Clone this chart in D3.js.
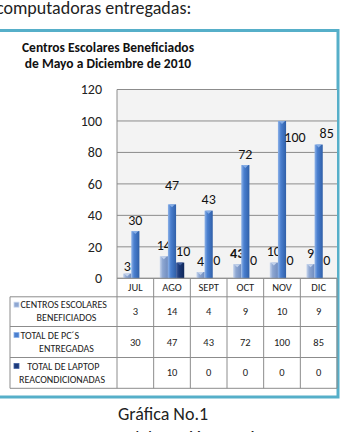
<!DOCTYPE html>
<html>
<head>
<meta charset="utf-8">
<script src="https://cdn.jsdelivr.net/npm/d3@7"></script>
<style>
  html, body { margin: 0; padding: 0; background: #fff; overflow: hidden; }
  svg { display: block; font-family: Carlito, Lato, sans-serif; }
</style>
</head>
<body>
<svg id="chart" width="345" height="432"></svg>
<script>
// data
const months = ["JUL", "AGO", "SEPT", "OCT", "NOV", "DIC"];
const centros = [3, 14, 4, 9, 10, 9];
const centrosLabels = ["3", "14", "4", "43", "10", "9"]; // as printed over the bars
const pcs = [30, 47, 43, 72, 100, 85];
const laptops = [null, 10, 0, 0, 0, 0];
const yTicks = [0, 20, 40, 60, 80, 100, 120];
const seriesNames = [
  ["CENTROS ESCOLARES", "BENEFICIADOS"],
  ["TOTAL DE PC´S", "ENTREGADAS"],
  ["   TOTAL DE LAPTOP", "REACONDICIONADAS"]
];

const colors = [
  { main: "#8ea7d2", light: "#c9d7ee", dark: "#6f8cbf" },
  { main: "#4a7fcf", light: "#8db2e8", dark: "#2f5fa8" },
  { main: "#1c3a7a", light: "#4563a3", dark: "#10285a" }
];

const svg = d3.select("#chart");
const plot = { left: 117, right: 337, top: 89.5, bottom: 278.3 };
const tableLeft = 10;
const rowLines = [278.3, 296.8, 326.5, 357.5, 388.3];
const gridColor = "#8c8c8c";

// gradients for the bars
const defs = svg.append("defs");
colors.forEach((c, i) => {
  const g = defs.append("linearGradient").attr("id", "grad" + i)
    .attr("x1", "0%").attr("x2", "100%").attr("y1", "0%").attr("y2", "0%");
  g.append("stop").attr("offset", "0%").attr("stop-color", c.light);
  g.append("stop").attr("offset", "35%").attr("stop-color", c.main);
  g.append("stop").attr("offset", "100%").attr("stop-color", c.dark);
});

// top text (cut by the crop)
svg.append("text")
  .attr("x", -4).attr("y", 13.5)
  .attr("font-size", "18px").attr("fill", "#222")
  .text("computadoras entregadas:");

// outer frame
svg.append("rect")
  .attr("x", -5).attr("y", 30.5)
  .attr("width", 343).attr("height", 366.5)
  .attr("fill", "#fff")
  .attr("stroke", "#56afc9").attr("stroke-width", 3);

// title
const title = svg.append("text")
  .attr("text-anchor", "middle")
  .attr("font-size", "13.5px").attr("font-weight", "bold").attr("fill", "#111");
title.append("tspan").attr("x", 108).attr("y", 52.3).text("Centros Escolares Beneficiados");
title.append("tspan").attr("x", 108).attr("y", 68).text("de Mayo a Diciembre de 2010");

// scales
const x = d3.scaleBand().domain(months).range([plot.left, plot.right]);
const x1 = d3.scaleBand().domain([0, 1, 2]).range([0, x.bandwidth()])
  .paddingInner(0).paddingOuter(0.75);
const y = d3.scaleLinear().domain([0, 120]).range([plot.bottom, plot.top]);

// plot background
svg.append("rect")
  .attr("x", plot.left).attr("y", plot.top)
  .attr("width", plot.right - plot.left).attr("height", plot.bottom - plot.top)
  .attr("fill", "#f3f3f3");

// gridlines
svg.append("g")
  .selectAll("line")
  .data(yTicks)
  .join("line")
  .attr("x1", plot.left).attr("x2", plot.right)
  .attr("y1", (d) => y(d)).attr("y2", (d) => y(d))
  .attr("stroke", gridColor).attr("stroke-width", 1);

svg.append("line")
  .attr("x1", plot.left).attr("x2", plot.left)
  .attr("y1", plot.top).attr("y2", rowLines[4])
  .attr("stroke", gridColor);

// y axis labels
svg.append("g")
  .attr("transform", `translate(${plot.left - 15},0)`)
  .call(d3.axisLeft(y).tickValues(yTicks).tickSize(0).tickPadding(0))
  .call((g) => g.select(".domain").remove())
  .call((g) => g.selectAll("text")
    .attr("font-family", "Carlito, Lato, sans-serif")
    .attr("font-size", "14px").attr("fill", "#222"));

// bars
const series = [centros, pcs, laptops];
const labelFix = { "1-1": [0, -8], "1-4": [13, 28], "1-5": [8, 0], "2-1": [3, 0], "0-0": [0, 4] };

series.forEach((vals, s) => {
  const data = months.map((m, i) => ({ m, i, v: vals[i] })).filter((d) => d.v !== null);
  const w = x1.bandwidth();
  const g = svg.append("g");
  g.selectAll("rect")
    .data(data.filter((d) => d.v > 0))
    .join("rect")
    .attr("x", (d) => x(d.m) + x1(s))
    .attr("y", (d) => y(d.v))
    .attr("width", w)
    .attr("height", (d) => y(0) - y(d.v))
    .attr("fill", `url(#grad${s})`);
  // small light cap on top of the bar
  g.selectAll("path")
    .data(data.filter((d) => d.v > 0))
    .join("path")
    .attr("d", (d) => {
      const bx = x(d.m) + x1(s), by = y(d.v);
      return `M${bx + 1},${by}L${bx + w - 1},${by}L${bx + w / 2},${by + 3}Z`;
    })
    .attr("fill", colors[s].light).attr("opacity", 0.9);

  g.selectAll("text")
    .data(data)
    .join("text")
    .attr("text-anchor", "middle")
    .attr("dominant-baseline", "central")
    .attr("font-size", "14px")
    .attr("fill", "#111")
    .attr("font-weight", (d) => (s === 0 && d.i === 3 ? "bold" : null))
    .attr("x", (d) => x(d.m) + x1(s) + w / 2 + (labelFix[s + "-" + d.i] || [0, 0])[0])
    .attr("y", (d) => (d.v === 0 ? y(0) - 18 : y(d.v) - 11) + (labelFix[s + "-" + d.i] || [0, 0])[1])
    .text((d) => (s === 0 ? centrosLabels[d.i] : d.v));
});

// data table
const table = svg.append("g").attr("stroke", gridColor).attr("stroke-width", 1);
rowLines.forEach((ly, i) => {
  table.append("line")
    .attr("x1", i === 0 ? plot.left : tableLeft).attr("x2", plot.right)
    .attr("y1", ly).attr("y2", ly);
});
table.append("line")
  .attr("x1", tableLeft).attr("x2", tableLeft)
  .attr("y1", rowLines[1]).attr("y2", rowLines[4]);
months.forEach((m) => {
  table.append("line")
    .attr("x1", x(m) + x.bandwidth()).attr("x2", x(m) + x.bandwidth())
    .attr("y1", rowLines[0]).attr("y2", rowLines[4]);
});

// category labels
svg.append("g")
  .selectAll("text")
  .data(months)
  .join("text")
  .attr("x", (d) => x(d) + x.bandwidth() / 2)
  .attr("y", (rowLines[0] + rowLines[1]) / 2)
  .attr("text-anchor", "middle").attr("dominant-baseline", "central")
  .attr("font-size", "10.5px").attr("fill", "#222")
  .text((d) => d);

// legend + values rows
series.forEach((vals, s) => {
  const top = rowLines[s + 1], bot = rowLines[s + 2];
  const cy = (top + bot) / 2;
  const lg = svg.append("g").attr("font-size", "10px").attr("fill", "#222");
  lg.append("rect")
    .attr("x", 14).attr("y", cy - 9.5)
    .attr("width", 5).attr("height", 5)
    .attr("fill", colors[s].main).attr("stroke", colors[s].light).attr("stroke-width", 0.8);
  lg.append("text")
    .attr("x", 20.5).attr("y", cy - 3.3)
    .style("white-space", "pre")
    .text(seriesNames[s][0]);
  lg.append("text")
    .attr("x", s === 2 ? 62 : 66.5).attr("y", cy + 9.7)
    .attr("text-anchor", "middle")
    .text(seriesNames[s][1]);

  svg.append("g")
    .selectAll("text")
    .data(months.map((m, i) => ({ m, v: vals[i] })).filter((d) => d.v !== null))
    .join("text")
    .attr("x", (d) => x(d.m) + x.bandwidth() / 2)
    .attr("y", cy)
    .attr("text-anchor", "middle").attr("dominant-baseline", "central")
    .attr("font-size", "10.5px").attr("fill", "#222")
    .text((d) => d.v);
});

// caption below
svg.append("text")
  .attr("x", 163).attr("y", 419.5)
  .attr("text-anchor", "middle").attr("font-size", "18px").attr("fill", "#222")
  .text("Gráfica No.1");
svg.append("text")
  .attr("x", 165).attr("y", 443.5)
  .attr("text-anchor", "middle").attr("font-size", "18px").attr("fill", "#222")
  .text("Fuente: Elaboración Propia");
</script>
</body>
</html>
